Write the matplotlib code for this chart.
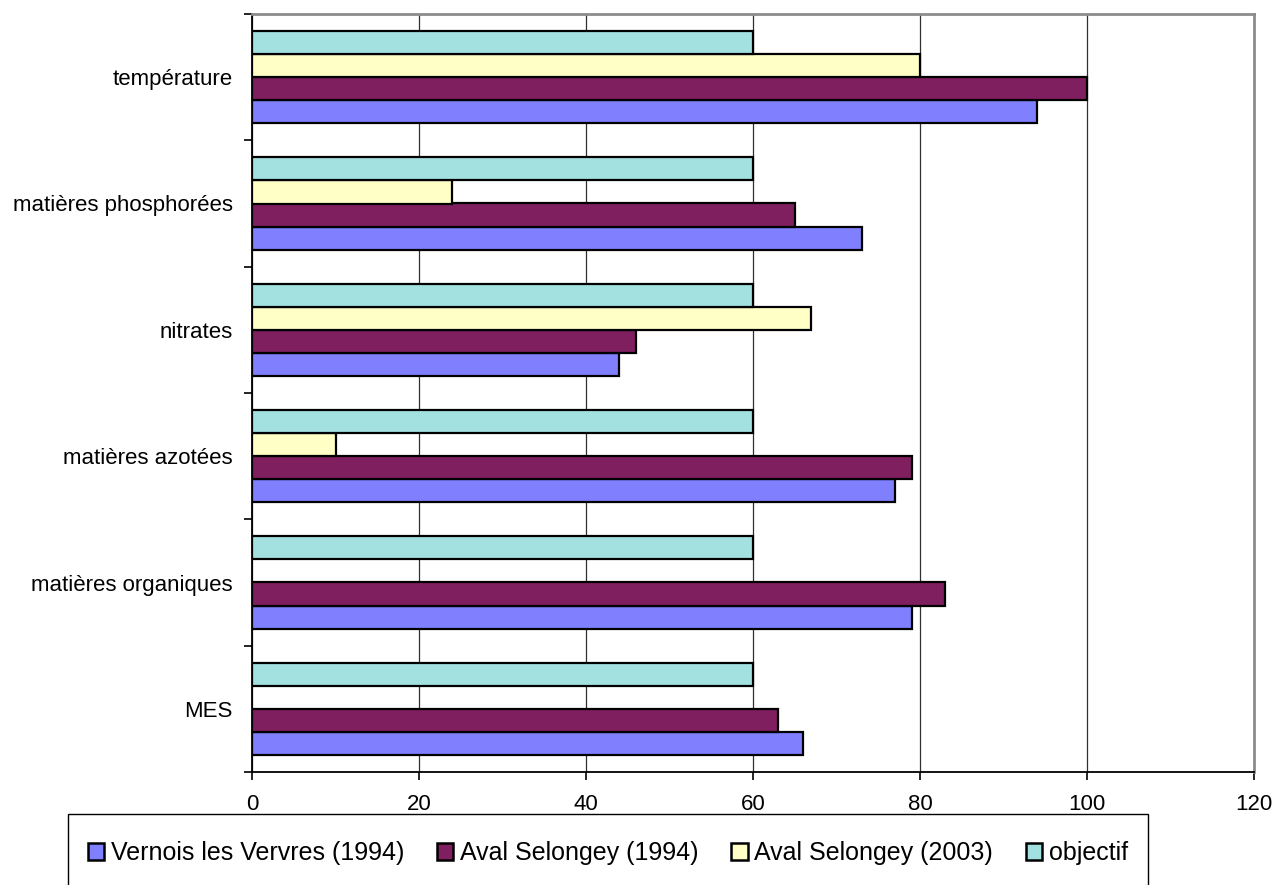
import matplotlib
matplotlib.use("Agg")
import matplotlib.pyplot as plt
from matplotlib.patches import Patch, Rectangle
import numpy as np

plt.rcParams['font.family'] = ['Liberation Sans', 'DejaVu Sans']

categories = ["MES", "matières organiques", "matières azotées", "nitrates",
              "matières phosphorées", "température"]
series_names = ["Vernois les Vervres (1994)", "Aval Selongey (1994)",
                "Aval Selongey (2003)", "objectif"]
vernois_1994 = [66, 79, 77, 44, 73, 94]
aval_1994 = [63, 83, 79, 46, 65, 100]
aval_2003 = [0, 0, 10, 67, 24, 80]
objectif = [60, 60, 60, 60, 60, 60]
x_ticks = [0, 20, 40, 60, 80, 100, 120]

colors = ["#8080FF", "#7F1F5F", "#FFFFC6", "#A3E0E0"]
series = [vernois_1994, aval_1994, aval_2003, objectif]

W, H = 1275, 885
fig = plt.figure(figsize=(W / 100, H / 100), dpi=100)
ax = fig.add_axes([252 / W, 1 - 772 / H, (1254 - 252) / W, (772 - 14) / H])

h = 0.183
y = np.arange(len(categories))
for i, (vals, col) in enumerate(zip(series, colors)):
    offs = (i - 1.5) * h
    vals = np.asarray(vals, dtype=float)
    mask = vals > 0
    ax.barh(y[mask] + offs, vals[mask], height=h, color=col,
            edgecolor="black", linewidth=1.6, zorder=3)

ax.set_xlim(0, 120)
ax.set_ylim(-0.5, len(categories) - 0.5)
ax.set_xticks(x_ticks)
ax.set_xticklabels([str(t) for t in x_ticks], fontsize=16)
ax.set_yticks(y)
ax.set_yticklabels(categories, fontsize=16)
ax.set_yticks(np.arange(-0.5, len(categories), 1.0), minor=True)
ax.tick_params(axis='y', which='major', length=0, pad=14)
ax.tick_params(axis='y', which='minor', length=6, width=1.2, direction='out')
ax.tick_params(axis='x', which='major', length=6, width=1.2, direction='out', pad=10)

ax.xaxis.grid(True, color="#303030", linewidth=0.9, zorder=0)
ax.set_axisbelow(True)
for s in ("top", "right"):
    ax.spines[s].set_color("#8C8C8C")
    ax.spines[s].set_linewidth(2)
for s in ("left", "bottom"):
    ax.spines[s].set_color("black")
    ax.spines[s].set_linewidth(1.3)

# legend entries, with a box that runs past the lower edge of the figure
handles = [Patch(facecolor=c, edgecolor="black", linewidth=1.8) for c in colors]
leg = fig.legend(handles, series_names, loc="center", ncol=4,
                 bbox_to_anchor=(608 / W, 1 - 853 / H),
                 fontsize=18, frameon=False,
                 handlelength=0.65, handleheight=0.65, handletextpad=0.28,
                 columnspacing=1.3, borderpad=0, borderaxespad=0)
box_left, box_right, box_top = 68, 1148, 814
fig.patches.append(Rectangle((box_left / W, -0.05), (box_right - box_left) / W,
                             1 - box_top / H + 0.05, transform=fig.transFigure,
                             facecolor="none", edgecolor="black", linewidth=1.0))

fig.savefig("out.png", dpi=100)
